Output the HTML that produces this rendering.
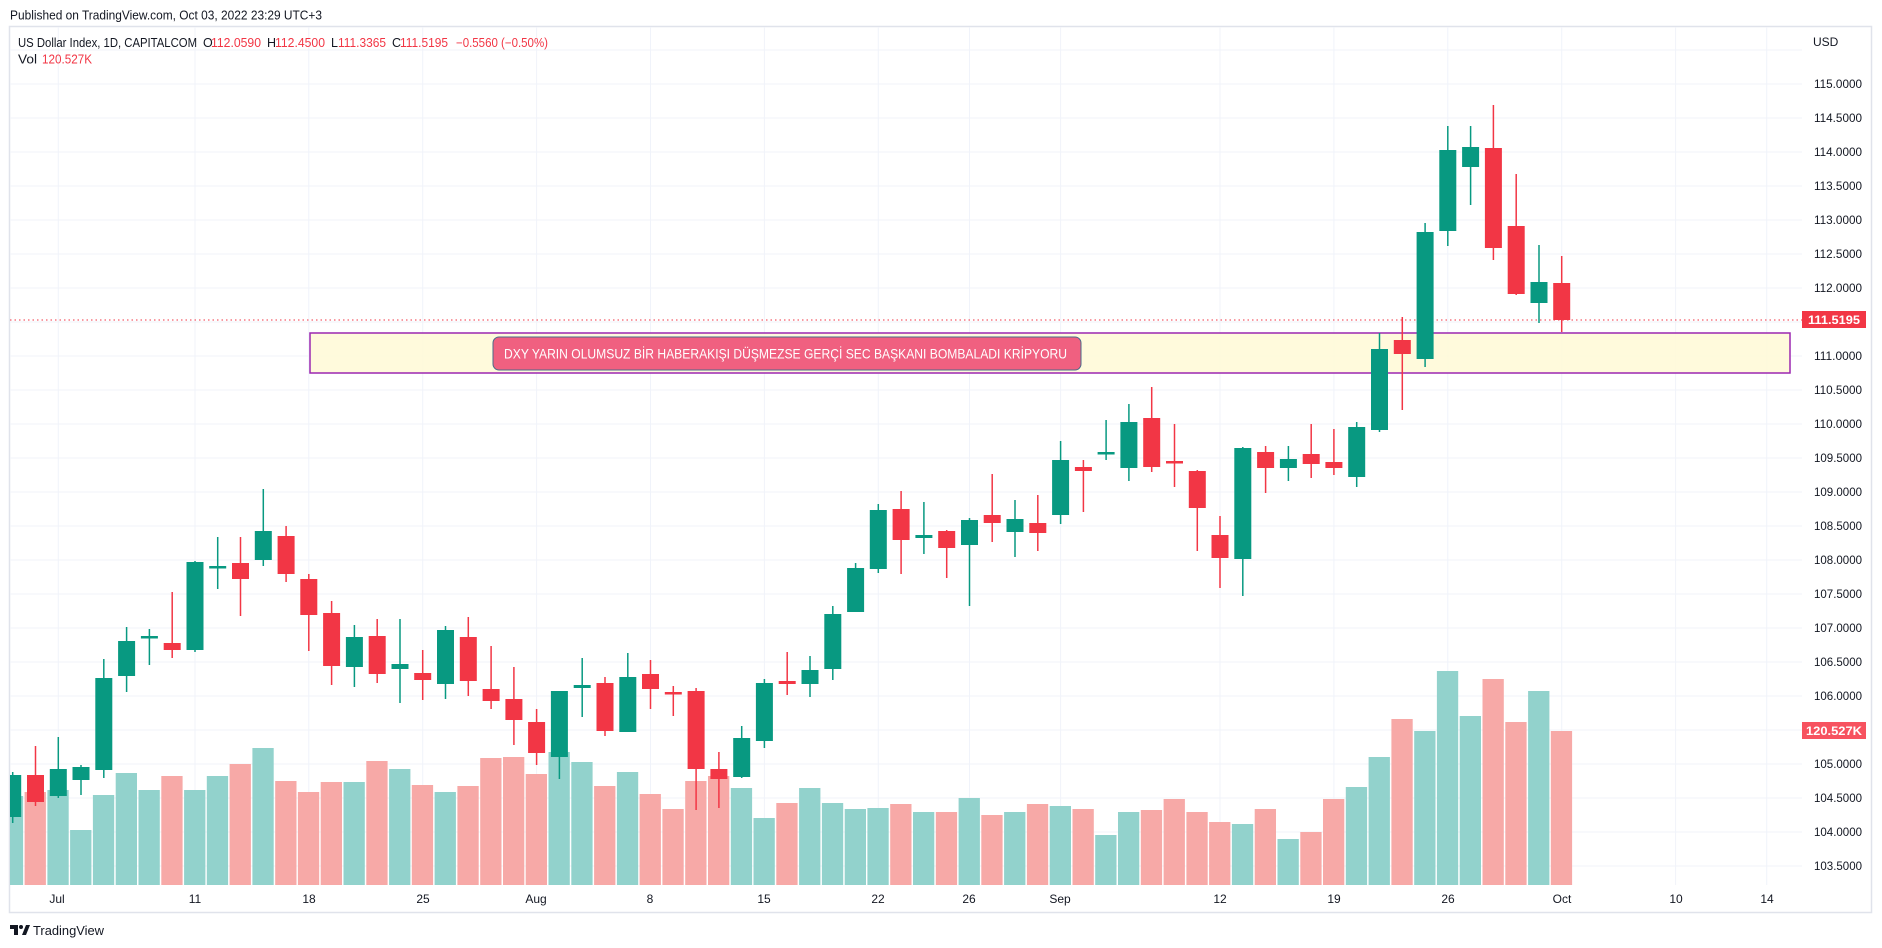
<!DOCTYPE html>
<html><head><meta charset="utf-8"><style>
html,body{margin:0;padding:0;background:#fff;}
svg{display:block;font-family:"Liberation Sans",sans-serif;}
</style></head><body>
<svg width="1882" height="948" viewBox="0 0 1882 948" xmlns="http://www.w3.org/2000/svg">
<rect width="1882" height="948" fill="#fff"/>
<text x="10" y="19.5" font-size="13" fill="#131722" textLength="312" lengthAdjust="spacingAndGlyphs">Published on TradingView.com, Oct 03, 2022 23:29 UTC+3</text>
<rect x="9.5" y="26.5" width="1862" height="886" fill="none" stroke="#e0e3eb" stroke-width="1.5"/>
<g stroke="#f0f3fa" stroke-width="1">
<line x1="10" x2="1802" y1="50" y2="50"/><line x1="10" x2="1802" y1="84" y2="84"/><line x1="10" x2="1802" y1="118" y2="118"/><line x1="10" x2="1802" y1="152" y2="152"/><line x1="10" x2="1802" y1="186" y2="186"/><line x1="10" x2="1802" y1="220" y2="220"/><line x1="10" x2="1802" y1="254" y2="254"/><line x1="10" x2="1802" y1="288" y2="288"/><line x1="10" x2="1802" y1="322" y2="322"/><line x1="10" x2="1802" y1="356" y2="356"/><line x1="10" x2="1802" y1="390" y2="390"/><line x1="10" x2="1802" y1="424" y2="424"/><line x1="10" x2="1802" y1="458" y2="458"/><line x1="10" x2="1802" y1="492" y2="492"/><line x1="10" x2="1802" y1="526" y2="526"/><line x1="10" x2="1802" y1="560" y2="560"/><line x1="10" x2="1802" y1="594" y2="594"/><line x1="10" x2="1802" y1="628" y2="628"/><line x1="10" x2="1802" y1="662" y2="662"/><line x1="10" x2="1802" y1="696" y2="696"/><line x1="10" x2="1802" y1="730" y2="730"/><line x1="10" x2="1802" y1="764" y2="764"/><line x1="10" x2="1802" y1="798" y2="798"/><line x1="10" x2="1802" y1="832" y2="832"/><line x1="10" x2="1802" y1="866" y2="866"/>
<line y1="27" y2="885" x1="58.3" x2="58.3"/><line y1="27" y2="885" x1="195" x2="195"/><line y1="27" y2="885" x1="308.8" x2="308.8"/><line y1="27" y2="885" x1="422.7" x2="422.7"/><line y1="27" y2="885" x1="536.6" x2="536.6"/><line y1="27" y2="885" x1="650.5" x2="650.5"/><line y1="27" y2="885" x1="764.4" x2="764.4"/><line y1="27" y2="885" x1="878.3" x2="878.3"/><line y1="27" y2="885" x1="969.5" x2="969.5"/><line y1="27" y2="885" x1="1060.6" x2="1060.6"/><line y1="27" y2="885" x1="1220" x2="1220"/><line y1="27" y2="885" x1="1333.9" x2="1333.9"/><line y1="27" y2="885" x1="1447.8" x2="1447.8"/><line y1="27" y2="885" x1="1561.7" x2="1561.7"/><line y1="27" y2="885" x1="1675.6" x2="1675.6"/><line y1="27" y2="885" x1="1766.7" x2="1766.7"/>
</g>
<defs><clipPath id="c"><rect x="10" y="27" width="1792" height="858"/></clipPath></defs>
<g clip-path="url(#c)">
<!-- volume -->
<g>
<rect x="1.8" y="796" width="21.3" height="89" fill="#92d2cc"/>
<rect x="24.6" y="792" width="21.3" height="93" fill="#f7a9a7"/>
<rect x="47.4" y="790" width="21.3" height="95" fill="#92d2cc"/>
<rect x="70.1" y="830" width="21.3" height="55" fill="#92d2cc"/>
<rect x="92.9" y="795" width="21.3" height="90" fill="#92d2cc"/>
<rect x="115.7" y="773" width="21.3" height="112" fill="#92d2cc"/>
<rect x="138.5" y="790" width="21.3" height="95" fill="#92d2cc"/>
<rect x="161.3" y="776" width="21.3" height="109" fill="#f7a9a7"/>
<rect x="184.1" y="790" width="21.3" height="95" fill="#92d2cc"/>
<rect x="206.8" y="776" width="21.3" height="109" fill="#92d2cc"/>
<rect x="229.6" y="764" width="21.3" height="121" fill="#f7a9a7"/>
<rect x="252.4" y="748" width="21.3" height="137" fill="#92d2cc"/>
<rect x="275.2" y="781" width="21.3" height="104" fill="#f7a9a7"/>
<rect x="297.9" y="792" width="21.3" height="93" fill="#f7a9a7"/>
<rect x="320.7" y="782" width="21.3" height="103" fill="#f7a9a7"/>
<rect x="343.5" y="782" width="21.3" height="103" fill="#92d2cc"/>
<rect x="366.3" y="761" width="21.3" height="124" fill="#f7a9a7"/>
<rect x="389.1" y="769" width="21.3" height="116" fill="#92d2cc"/>
<rect x="411.8" y="785" width="21.3" height="100" fill="#f7a9a7"/>
<rect x="434.6" y="792" width="21.3" height="93" fill="#92d2cc"/>
<rect x="457.4" y="786" width="21.3" height="99" fill="#f7a9a7"/>
<rect x="480.2" y="758" width="21.3" height="127" fill="#f7a9a7"/>
<rect x="503" y="757" width="21.3" height="128" fill="#f7a9a7"/>
<rect x="525.7" y="774" width="21.3" height="111" fill="#f7a9a7"/>
<rect x="548.5" y="752" width="21.3" height="133" fill="#92d2cc"/>
<rect x="571.3" y="762" width="21.3" height="123" fill="#92d2cc"/>
<rect x="594.1" y="786" width="21.3" height="99" fill="#f7a9a7"/>
<rect x="616.9" y="772" width="21.3" height="113" fill="#92d2cc"/>
<rect x="639.6" y="794" width="21.3" height="91" fill="#f7a9a7"/>
<rect x="662.4" y="809" width="21.3" height="76" fill="#f7a9a7"/>
<rect x="685.2" y="781" width="21.3" height="104" fill="#f7a9a7"/>
<rect x="708" y="776" width="21.3" height="109" fill="#f7a9a7"/>
<rect x="730.8" y="788" width="21.3" height="97" fill="#92d2cc"/>
<rect x="753.5" y="818" width="21.3" height="67" fill="#92d2cc"/>
<rect x="776.3" y="803" width="21.3" height="82" fill="#f7a9a7"/>
<rect x="799.1" y="788" width="21.3" height="97" fill="#92d2cc"/>
<rect x="821.9" y="803" width="21.3" height="82" fill="#92d2cc"/>
<rect x="844.7" y="809" width="21.3" height="76" fill="#92d2cc"/>
<rect x="867.4" y="808" width="21.3" height="77" fill="#92d2cc"/>
<rect x="890.2" y="804" width="21.3" height="81" fill="#f7a9a7"/>
<rect x="913" y="812" width="21.3" height="73" fill="#92d2cc"/>
<rect x="935.8" y="812" width="21.3" height="73" fill="#f7a9a7"/>
<rect x="958.6" y="798" width="21.3" height="87" fill="#92d2cc"/>
<rect x="981.3" y="815" width="21.3" height="70" fill="#f7a9a7"/>
<rect x="1004.1" y="812" width="21.3" height="73" fill="#92d2cc"/>
<rect x="1026.9" y="804" width="21.3" height="81" fill="#f7a9a7"/>
<rect x="1049.7" y="806" width="21.3" height="79" fill="#92d2cc"/>
<rect x="1072.5" y="809" width="21.3" height="76" fill="#f7a9a7"/>
<rect x="1095.2" y="835" width="21.3" height="50" fill="#92d2cc"/>
<rect x="1118" y="812" width="21.3" height="73" fill="#92d2cc"/>
<rect x="1140.8" y="810" width="21.3" height="75" fill="#f7a9a7"/>
<rect x="1163.6" y="799" width="21.3" height="86" fill="#f7a9a7"/>
<rect x="1186.4" y="812" width="21.3" height="73" fill="#f7a9a7"/>
<rect x="1209.1" y="822" width="21.3" height="63" fill="#f7a9a7"/>
<rect x="1231.9" y="824" width="21.3" height="61" fill="#92d2cc"/>
<rect x="1254.7" y="809" width="21.3" height="76" fill="#f7a9a7"/>
<rect x="1277.5" y="839" width="21.3" height="46" fill="#92d2cc"/>
<rect x="1300.3" y="832" width="21.3" height="53" fill="#f7a9a7"/>
<rect x="1323" y="799" width="21.3" height="86" fill="#f7a9a7"/>
<rect x="1345.8" y="787" width="21.3" height="98" fill="#92d2cc"/>
<rect x="1368.6" y="757" width="21.3" height="128" fill="#92d2cc"/>
<rect x="1391.4" y="719" width="21.3" height="166" fill="#f7a9a7"/>
<rect x="1414.2" y="731" width="21.3" height="154" fill="#92d2cc"/>
<rect x="1436.9" y="671" width="21.3" height="214" fill="#92d2cc"/>
<rect x="1459.7" y="716" width="21.3" height="169" fill="#92d2cc"/>
<rect x="1482.5" y="679" width="21.3" height="206" fill="#f7a9a7"/>
<rect x="1505.3" y="722" width="21.3" height="163" fill="#f7a9a7"/>
<rect x="1528.1" y="691" width="21.3" height="194" fill="#92d2cc"/>
<rect x="1550.8" y="731" width="21.3" height="154" fill="#f7a9a7"/>
</g>
<!-- annotation rectangle -->
<rect x="310" y="333" width="1480" height="40" fill="#fff9d6" fill-opacity="0.85" stroke="#9c27b0" stroke-width="1.5"/>
<!-- price line -->
<line x1="10" x2="1802" y1="320" y2="320" stroke="#f23645" stroke-width="1" stroke-dasharray="1.5,3"/>
<!-- candles -->
<g stroke-width="1.5">
<g fill="#089981" stroke="#089981">
<line x1="12.7" x2="12.7" y1="772" y2="823"/><rect x="4.2" y="775" width="17" height="42" stroke="none"/>
<line x1="58.3" x2="58.3" y1="737" y2="798"/><rect x="49.8" y="769" width="17" height="27" stroke="none"/>
<line x1="81" x2="81" y1="765" y2="795"/><rect x="72.5" y="767" width="17" height="13" stroke="none"/>
<line x1="103.8" x2="103.8" y1="659" y2="778"/><rect x="95.3" y="678" width="17" height="92" stroke="none"/>
<line x1="126.6" x2="126.6" y1="627" y2="692"/><rect x="118.1" y="641" width="17" height="35" stroke="none"/>
<line x1="149.4" x2="149.4" y1="629" y2="665"/><rect x="140.9" y="636" width="17" height="2.5" stroke="none"/>
<line x1="195" x2="195" y1="561" y2="652"/><rect x="186.5" y="562" width="17" height="88" stroke="none"/>
<line x1="217.7" x2="217.7" y1="537" y2="589"/><rect x="209.2" y="566" width="17" height="2.5" stroke="none"/>
<line x1="263.3" x2="263.3" y1="489" y2="566"/><rect x="254.8" y="531" width="17" height="29" stroke="none"/>
<line x1="354.4" x2="354.4" y1="625" y2="687"/><rect x="345.9" y="637" width="17" height="30" stroke="none"/>
<line x1="400" x2="400" y1="619" y2="703"/><rect x="391.5" y="664" width="17" height="5" stroke="none"/>
<line x1="445.5" x2="445.5" y1="626" y2="699"/><rect x="437" y="630" width="17" height="54" stroke="none"/>
<line x1="559.4" x2="559.4" y1="691" y2="779"/><rect x="550.9" y="691" width="17" height="66" stroke="none"/>
<line x1="582.2" x2="582.2" y1="658" y2="717"/><rect x="573.7" y="685" width="17" height="3" stroke="none"/>
<line x1="627.8" x2="627.8" y1="653" y2="732"/><rect x="619.3" y="677" width="17" height="55" stroke="none"/>
<line x1="741.7" x2="741.7" y1="726" y2="778"/><rect x="733.2" y="738" width="17" height="39" stroke="none"/>
<line x1="764.4" x2="764.4" y1="679" y2="748"/><rect x="755.9" y="683" width="17" height="58" stroke="none"/>
<line x1="810" x2="810" y1="656" y2="697"/><rect x="801.5" y="670" width="17" height="14" stroke="none"/>
<line x1="832.8" x2="832.8" y1="606" y2="680"/><rect x="824.3" y="614" width="17" height="55" stroke="none"/>
<line x1="855.6" x2="855.6" y1="563" y2="612"/><rect x="847.1" y="568" width="17" height="44" stroke="none"/>
<line x1="878.3" x2="878.3" y1="504" y2="573"/><rect x="869.8" y="510" width="17" height="59" stroke="none"/>
<line x1="923.9" x2="923.9" y1="502" y2="554"/><rect x="915.4" y="535" width="17" height="3" stroke="none"/>
<line x1="969.5" x2="969.5" y1="518" y2="606"/><rect x="961" y="520" width="17" height="25" stroke="none"/>
<line x1="1015" x2="1015" y1="500" y2="557"/><rect x="1006.5" y="519" width="17" height="13" stroke="none"/>
<line x1="1060.6" x2="1060.6" y1="441" y2="524"/><rect x="1052.1" y="460" width="17" height="55" stroke="none"/>
<line x1="1106.1" x2="1106.1" y1="420" y2="460"/><rect x="1097.6" y="452" width="17" height="2.5" stroke="none"/>
<line x1="1128.9" x2="1128.9" y1="404" y2="481"/><rect x="1120.4" y="422" width="17" height="46" stroke="none"/>
<line x1="1242.8" x2="1242.8" y1="447" y2="596"/><rect x="1234.3" y="448" width="17" height="111" stroke="none"/>
<line x1="1288.4" x2="1288.4" y1="446" y2="481"/><rect x="1279.9" y="459" width="17" height="9" stroke="none"/>
<line x1="1356.7" x2="1356.7" y1="422" y2="487"/><rect x="1348.2" y="427" width="17" height="50" stroke="none"/>
<line x1="1379.5" x2="1379.5" y1="333" y2="432"/><rect x="1371" y="349" width="17" height="81" stroke="none"/>
<line x1="1425.1" x2="1425.1" y1="223" y2="367"/><rect x="1416.6" y="232" width="17" height="127" stroke="none"/>
<line x1="1447.8" x2="1447.8" y1="126" y2="246"/><rect x="1439.3" y="150" width="17" height="81" stroke="none"/>
<line x1="1470.6" x2="1470.6" y1="126" y2="205"/><rect x="1462.1" y="147" width="17" height="20" stroke="none"/>
<line x1="1539" x2="1539" y1="245" y2="323"/><rect x="1530.5" y="282" width="17" height="21" stroke="none"/>
</g>
<g fill="#f23645" stroke="#f23645">
<line x1="35.5" x2="35.5" y1="746" y2="806"/><rect x="27" y="775" width="17" height="27" stroke="none"/>
<line x1="172.2" x2="172.2" y1="592" y2="658"/><rect x="163.7" y="643" width="17" height="7" stroke="none"/>
<line x1="240.5" x2="240.5" y1="537" y2="616"/><rect x="232" y="563" width="17" height="16" stroke="none"/>
<line x1="286.1" x2="286.1" y1="526" y2="582"/><rect x="277.6" y="536" width="17" height="38" stroke="none"/>
<line x1="308.8" x2="308.8" y1="574" y2="651"/><rect x="300.3" y="579" width="17" height="36" stroke="none"/>
<line x1="331.6" x2="331.6" y1="601" y2="685"/><rect x="323.1" y="613" width="17" height="53" stroke="none"/>
<line x1="377.2" x2="377.2" y1="619" y2="683"/><rect x="368.7" y="636" width="17" height="38" stroke="none"/>
<line x1="422.7" x2="422.7" y1="650" y2="700"/><rect x="414.2" y="673" width="17" height="7" stroke="none"/>
<line x1="468.3" x2="468.3" y1="617" y2="696"/><rect x="459.8" y="637" width="17" height="44" stroke="none"/>
<line x1="491.1" x2="491.1" y1="646" y2="709"/><rect x="482.6" y="689" width="17" height="12" stroke="none"/>
<line x1="513.9" x2="513.9" y1="667" y2="745"/><rect x="505.4" y="699" width="17" height="21" stroke="none"/>
<line x1="536.6" x2="536.6" y1="709" y2="765"/><rect x="528.1" y="722" width="17" height="31" stroke="none"/>
<line x1="605" x2="605" y1="677" y2="736"/><rect x="596.5" y="683" width="17" height="48" stroke="none"/>
<line x1="650.5" x2="650.5" y1="660" y2="709"/><rect x="642" y="674" width="17" height="15" stroke="none"/>
<line x1="673.3" x2="673.3" y1="686" y2="716"/><rect x="664.8" y="692" width="17" height="2.5" stroke="none"/>
<line x1="696.1" x2="696.1" y1="688" y2="810"/><rect x="687.6" y="691" width="17" height="78" stroke="none"/>
<line x1="718.9" x2="718.9" y1="752" y2="808"/><rect x="710.4" y="769" width="17" height="10" stroke="none"/>
<line x1="787.2" x2="787.2" y1="652" y2="695"/><rect x="778.7" y="681" width="17" height="3" stroke="none"/>
<line x1="901.1" x2="901.1" y1="491" y2="574"/><rect x="892.6" y="509" width="17" height="31" stroke="none"/>
<line x1="946.7" x2="946.7" y1="530" y2="578"/><rect x="938.2" y="531" width="17" height="17" stroke="none"/>
<line x1="992.2" x2="992.2" y1="474" y2="542"/><rect x="983.7" y="515" width="17" height="8" stroke="none"/>
<line x1="1037.8" x2="1037.8" y1="495" y2="551"/><rect x="1029.3" y="523" width="17" height="10" stroke="none"/>
<line x1="1083.4" x2="1083.4" y1="460" y2="512"/><rect x="1074.9" y="467" width="17" height="4" stroke="none"/>
<line x1="1151.7" x2="1151.7" y1="387" y2="472"/><rect x="1143.2" y="418" width="17" height="49" stroke="none"/>
<line x1="1174.5" x2="1174.5" y1="424" y2="487"/><rect x="1166" y="461" width="17" height="2.5" stroke="none"/>
<line x1="1197.3" x2="1197.3" y1="470" y2="551"/><rect x="1188.8" y="471" width="17" height="37" stroke="none"/>
<line x1="1220" x2="1220" y1="516" y2="588"/><rect x="1211.5" y="535" width="17" height="23" stroke="none"/>
<line x1="1265.6" x2="1265.6" y1="446" y2="493"/><rect x="1257.1" y="452" width="17" height="16" stroke="none"/>
<line x1="1311.2" x2="1311.2" y1="424" y2="478"/><rect x="1302.7" y="454" width="17" height="10" stroke="none"/>
<line x1="1333.9" x2="1333.9" y1="429" y2="475"/><rect x="1325.4" y="462" width="17" height="6" stroke="none"/>
<line x1="1402.3" x2="1402.3" y1="317" y2="410"/><rect x="1393.8" y="340" width="17" height="14" stroke="none"/>
<line x1="1493.4" x2="1493.4" y1="105" y2="260"/><rect x="1484.9" y="148" width="17" height="100" stroke="none"/>
<line x1="1516.2" x2="1516.2" y1="174" y2="295"/><rect x="1507.7" y="226" width="17" height="68" stroke="none"/>
<line x1="1561.7" x2="1561.7" y1="256" y2="332"/><rect x="1553.2" y="283" width="17" height="37" stroke="none"/>
</g>
</g>
<!-- callout -->
<rect x="493" y="337" width="588" height="33" rx="6" fill="#f06080" stroke="#4a6a8a" stroke-width="1"/>
<text x="504" y="358.5" font-size="14" fill="#fff" textLength="563" lengthAdjust="spacingAndGlyphs">DXY YARIN OLUMSUZ BİR HABERAKIŞI DÜŞMEZSE GERÇİ SEC BAŞKANI BOMBALADI KRİPYORU</text>
</g>
<!-- legend -->
<g font-size="12.5">
<text x="18" y="47" fill="#131722" textLength="179" lengthAdjust="spacingAndGlyphs">US Dollar Index, 1D, CAPITALCOM</text>
<text x="203" y="47" fill="#131722">O</text><text x="211" y="47" fill="#f23645" textLength="50" lengthAdjust="spacingAndGlyphs">112.0590</text>
<text x="267" y="47" fill="#131722">H</text><text x="275" y="47" fill="#f23645" textLength="50" lengthAdjust="spacingAndGlyphs">112.4500</text>
<text x="331" y="47" fill="#131722">L</text><text x="338" y="47" fill="#f23645" textLength="48" lengthAdjust="spacingAndGlyphs">111.3365</text>
<text x="392" y="47" fill="#131722">C</text><text x="400" y="47" fill="#f23645" textLength="48" lengthAdjust="spacingAndGlyphs">111.5195</text>
<text x="456" y="47" fill="#f23645" textLength="92" lengthAdjust="spacingAndGlyphs">−0.5560 (−0.50%)</text>
<text x="18" y="63.5" fill="#131722" textLength="19" lengthAdjust="spacingAndGlyphs">Vol</text>
<text x="42" y="63.5" fill="#f23645" textLength="50" lengthAdjust="spacingAndGlyphs">120.527K</text>
</g>
<!-- price axis -->
<g font-size="12" fill="#131722">
<text x="1813" y="46">USD</text>
<text x="1814" y="88" textLength="48" lengthAdjust="spacingAndGlyphs">115.0000</text>
<text x="1814" y="122" textLength="48" lengthAdjust="spacingAndGlyphs">114.5000</text>
<text x="1814" y="156" textLength="48" lengthAdjust="spacingAndGlyphs">114.0000</text>
<text x="1814" y="190" textLength="48" lengthAdjust="spacingAndGlyphs">113.5000</text>
<text x="1814" y="224" textLength="48" lengthAdjust="spacingAndGlyphs">113.0000</text>
<text x="1814" y="258" textLength="48" lengthAdjust="spacingAndGlyphs">112.5000</text>
<text x="1814" y="292" textLength="48" lengthAdjust="spacingAndGlyphs">112.0000</text>
<text x="1814" y="360" textLength="48" lengthAdjust="spacingAndGlyphs">111.0000</text>
<text x="1814" y="394" textLength="48" lengthAdjust="spacingAndGlyphs">110.5000</text>
<text x="1814" y="428" textLength="48" lengthAdjust="spacingAndGlyphs">110.0000</text>
<text x="1814" y="462" textLength="48" lengthAdjust="spacingAndGlyphs">109.5000</text>
<text x="1814" y="496" textLength="48" lengthAdjust="spacingAndGlyphs">109.0000</text>
<text x="1814" y="530" textLength="48" lengthAdjust="spacingAndGlyphs">108.5000</text>
<text x="1814" y="564" textLength="48" lengthAdjust="spacingAndGlyphs">108.0000</text>
<text x="1814" y="598" textLength="48" lengthAdjust="spacingAndGlyphs">107.5000</text>
<text x="1814" y="632" textLength="48" lengthAdjust="spacingAndGlyphs">107.0000</text>
<text x="1814" y="666" textLength="48" lengthAdjust="spacingAndGlyphs">106.5000</text>
<text x="1814" y="700" textLength="48" lengthAdjust="spacingAndGlyphs">106.0000</text>
<text x="1814" y="768" textLength="48" lengthAdjust="spacingAndGlyphs">105.0000</text>
<text x="1814" y="802" textLength="48" lengthAdjust="spacingAndGlyphs">104.5000</text>
<text x="1814" y="836" textLength="48" lengthAdjust="spacingAndGlyphs">104.0000</text>
<text x="1814" y="870" textLength="48" lengthAdjust="spacingAndGlyphs">103.5000</text>
</g>
<rect x="1802" y="311" width="64" height="17" fill="#f23645"/>
<text x="1808" y="324" font-size="12" font-weight="bold" fill="#fff" textLength="52" lengthAdjust="spacingAndGlyphs">111.5195</text>
<rect x="1802" y="722" width="64" height="17" fill="#f7525f"/>
<text x="1806" y="735" font-size="12" font-weight="bold" fill="#fff" textLength="56" lengthAdjust="spacingAndGlyphs">120.527K</text>
<!-- time axis -->
<g font-size="12" fill="#131722" text-anchor="middle">
<text x="57" y="903">Jul</text><text x="195" y="903">11</text><text x="309" y="903">18</text><text x="423" y="903">25</text>
<text x="536" y="903">Aug</text><text x="650" y="903">8</text><text x="764" y="903">15</text><text x="878" y="903">22</text>
<text x="969" y="903">26</text><text x="1060" y="903">Sep</text><text x="1220" y="903">12</text><text x="1334" y="903">19</text>
<text x="1448" y="903">26</text><text x="1562" y="903">Oct</text><text x="1676" y="903">10</text><text x="1767" y="903">14</text>
</g>
<!-- logo -->
<g fill="#131722">
<rect x="10" y="925" width="8" height="4"/><rect x="14" y="925" width="4" height="10"/>
<circle cx="21" cy="927" r="2"/><polygon points="22,935 26,925 30,925 26,935"/>
</g>
<text x="33" y="935" font-size="13" fill="#131722" textLength="71" lengthAdjust="spacingAndGlyphs">TradingView</text>
</svg>
</body></html>
